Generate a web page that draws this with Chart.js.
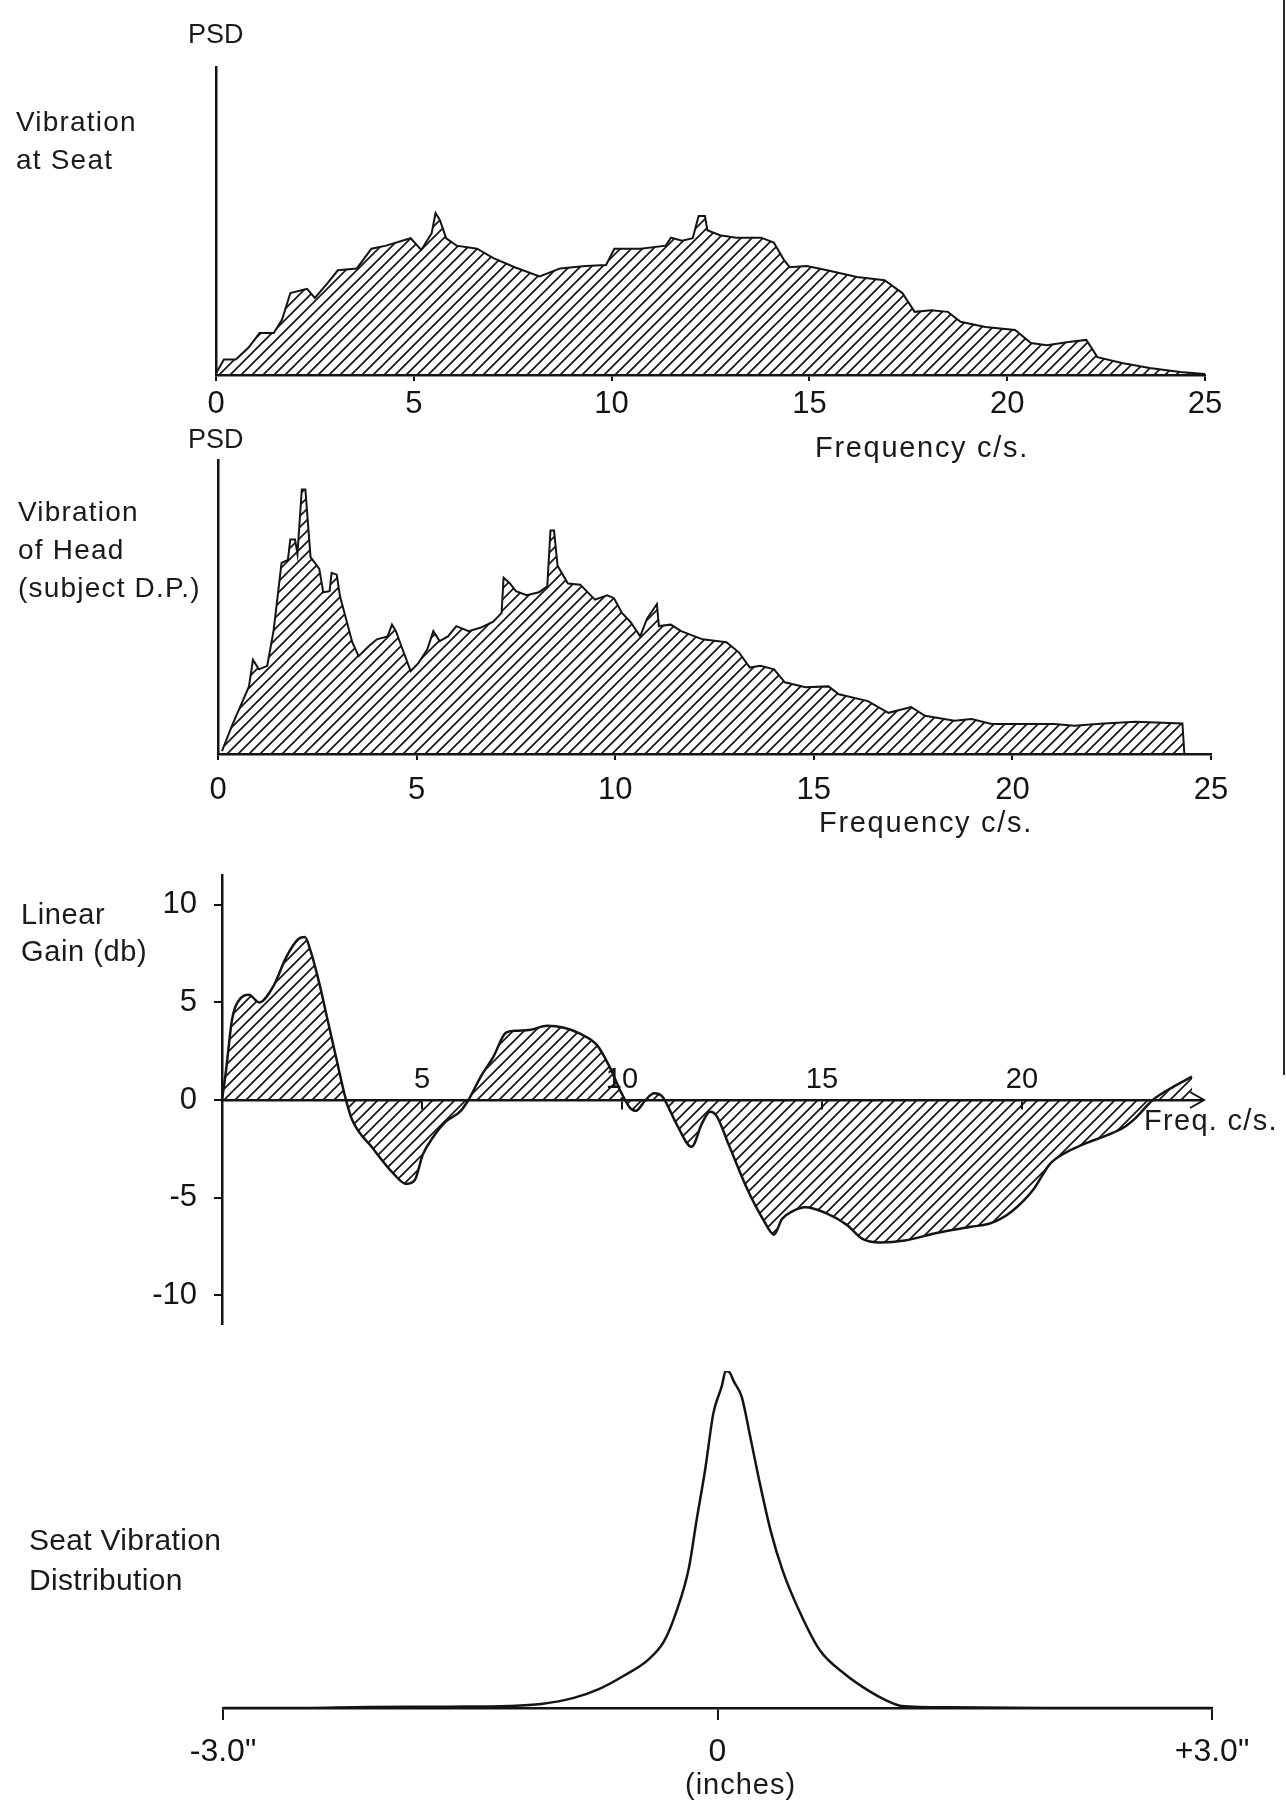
<!DOCTYPE html>
<html>
<head>
<meta charset="utf-8">
<title>Seat and head vibration</title>
<script src="https://cdn.jsdelivr.net/npm/chart.js@4.4.1/dist/chart.umd.min.js"></script>
<style>
  body { margin: 0; background: #fff; }
  #page { position: relative; width: 1286px; height: 1808px; overflow: hidden; background: #fff; }
  .panel { position: absolute; left: 0; width: 1286px; }
  .lbl { position: absolute; font-family: 'Liberation Sans', Arial, sans-serif; color: #1a1a1a; white-space: nowrap; line-height: 1; }
  .side { font-size: 28px; letter-spacing: 1.2px; line-height: 38px; }
  .edge { position: absolute; left: 1283px; top: 0; width: 2px; height: 1075px; background: #2a2a2a; }
</style>
</head>
<body>
<div id="page">
  <div class="panel" style="top:0;height:470px"><canvas id="seatChart"></canvas></div>
  <div class="panel" style="top:420px;height:440px"><canvas id="headChart"></canvas></div>
  <div class="panel" style="top:840px;height:520px"><canvas id="gainChart"></canvas></div>
  <div class="panel" style="top:1340px;height:468px"><canvas id="distChart"></canvas></div>

  <div class="lbl" style="left:188px;top:21px;font-size:27px">PSD</div>
  <div class="lbl side" style="left:16px;top:103px">Vibration<br>at Seat</div>
  <div class="lbl" style="left:815px;top:433px;font-size:29px;letter-spacing:1.7px">Frequency c/s.</div>

  <div class="lbl" style="left:188px;top:426px;font-size:27px">PSD</div>
  <div class="lbl side" style="left:18px;top:493px">Vibration<br>of Head<br>(subject D.P.)</div>
  <div class="lbl" style="left:819px;top:808px;font-size:29px;letter-spacing:1.7px">Frequency c/s.</div>

  <div class="lbl side" style="left:21px;top:896px;font-size:29px;line-height:37px;letter-spacing:0.6px">Linear<br>Gain (db)</div>
  <div class="lbl" style="left:1144px;top:1106px;font-size:29px;letter-spacing:1.3px">Freq. c/s.</div>

  <div class="lbl side" style="left:29px;top:1520px;font-size:30px;line-height:40px;letter-spacing:0.3px">Seat Vibration<br>Distribution</div>
  <div class="lbl" style="left:685px;top:1770px;font-size:29px;letter-spacing:1px">(inches)</div>

  <div class="edge"></div>
</div>

<script>
// ----------------------------------------------------
// DATA
// ----------------------------------------------------

// Vibration at seat - PSD (relative units, axis top = 100) vs frequency c/s
const seatFreq = [0, 0.2, 0.5, 0.83, 1.1, 1.46, 1.67, 1.88, 2.3, 2.5, 2.83, 3.08, 3.56, 3.93, 4.3, 4.92,
    5.19, 5.45, 5.55, 5.66, 5.82, 6.08, 6.6, 7.0, 7.55, 8.18, 8.7, 9.34, 9.86, 10.07, 10.74, 11.37,
    11.5, 11.78, 12.05, 12.2, 12.36, 12.42, 12.74, 13.15, 13.78, 14.1, 14.36, 14.5, 14.93, 15.45, 16.2,
    16.9, 17.35, 17.66, 18.08, 18.5, 18.82, 19.45, 20.2, 20.6, 21.0, 21.55, 22.0, 22.28, 22.9, 23.6, 24.37, 25];
const seatPsd = [0.6, 5, 5, 9, 13.6, 13.6, 18, 26.6, 28, 25, 30, 34, 34.6, 41, 42, 44.4,
    40.6, 46, 52.6, 50.3, 44.4, 42, 41, 38, 35, 32, 34.6, 35.4, 35.7, 41, 41, 42,
    44.6, 43.6, 44.4, 51.6, 51.6, 47, 45.4, 44.6, 44.6, 43, 37.3, 35, 35.4, 34, 31.8,
    30.8, 26.6, 20.5, 21, 20.5, 17.3, 15.6, 14.6, 10.4, 9.7, 10.7, 11.4, 5.8, 3.9, 2.3, 1, 0.3];

// Vibration of head (subject D.P.) - PSD vs frequency c/s
const headFreq = [0.1, 0.35, 0.78, 0.88, 1.03, 1.24, 1.4, 1.6, 1.76, 1.82, 1.94, 2.0, 2.11, 2.2, 2.33, 2.55,
    2.65, 2.81, 2.86, 2.99, 3.07, 3.38, 3.54, 3.8, 4.0, 4.27, 4.38, 4.48, 4.58, 4.85, 5.05, 5.27,
    5.42, 5.58, 5.79, 6.0, 6.31, 6.62, 6.93, 7.14, 7.19, 7.35, 7.5, 7.77, 8.08, 8.29, 8.37, 8.46,
    8.55, 8.81, 9.12, 9.49, 9.8, 9.97, 10.17, 10.38, 10.63, 10.8, 11.05, 11.1, 11.4, 11.66, 12.2,
    12.8, 13.12, 13.39, 13.65, 14.0, 14.27, 14.79, 15.37, 15.63, 16.36, 16.88, 17.45, 17.8, 18.54,
    18.97, 19.48, 20.2, 21.05, 21.56, 22.3, 23.1, 24.28, 24.33];
const headPsd = [1, 9.6, 23, 32, 28.8, 30, 42, 65, 66, 73, 73, 68, 90, 90, 67, 63,
    55, 55.4, 61.6, 61, 53.7, 38, 33.3, 36.7, 39, 40, 44, 41.8, 38, 28.2, 31, 35.6,
    41.8, 38.4, 40, 43.5, 41.8, 43, 45, 48, 60, 58, 55.4, 54, 55, 57, 76, 76,
    64, 58, 57.6, 52.5, 54, 53, 48, 45, 40, 46, 51, 43.5, 44, 41.8, 39,
    38, 34.5, 29.4, 30, 28.8, 24.4, 22.7, 23, 20.3, 18, 14, 16, 13, 11.3,
    11.9, 10.2, 10.2, 10.2, 9.6, 10.4, 11, 10.4, 0];

// Linear gain (db) vs frequency c/s
const gainFreq = [0, 0.1, 0.25, 0.46, 0.67, 0.93, 1.29, 1.6, 1.91, 2.07, 2.22, 2.43, 2.64, 2.85, 3.1, 3.25,
    3.78, 4.3, 4.6, 4.82, 5.02, 5.28, 5.6, 5.95, 6.16, 6.47, 6.78, 7.1, 7.35, 7.72, 8.13, 8.55,
    8.95, 9.38, 9.69, 10.0, 10.2, 10.35, 10.57, 10.8, 11.0, 11.38, 11.74, 12.0, 12.2, 12.36, 12.67,
    13.14, 13.55, 13.8, 14.0, 14.27, 14.58, 15.1, 15.62, 16.0, 16.45, 17.07, 17.9, 18.72, 19.24,
    19.75, 20.28, 20.69, 21.0, 21.5, 22.13, 22.55, 22.85, 23.27, 23.8, 24.25];
const gainDb = [0, 1.5, 4.1, 5.2, 5.4, 5.0, 5.85, 7.3, 8.25, 8.35, 7.6, 6.0, 4.1, 2.2, 0, -1.0,
    -2.5, -3.8, -4.3, -4.1, -2.8, -1.9, -1.1, -0.6, 0, 1.2, 2.2, 3.45, 3.55, 3.6, 3.8, 3.7,
    3.4, 2.8, 1.7, 0.3, -0.4, -0.55, -0.05, 0.35, 0.2, -1.3, -2.4, -1.2, -0.6, -0.8, -2.3,
    -4.6, -6.2, -6.9, -6.1, -5.7, -5.5, -5.8, -6.4, -7.1, -7.3, -7.2, -6.8, -6.5, -6.3,
    -5.7, -4.6, -3.3, -2.8, -2.3, -1.8, -1.4, -0.9, 0, 0.7, 1.2];

// Seat vibration distribution (relative, peak = 100) vs displacement in inches
const distInch = [-3.0, -2.6, -2.115, -1.617, -1.268, -1.069, -0.872, -0.72, -0.571, -0.423, -0.323, -0.248,
    -0.174, -0.126, -0.074, -0.025, 0.026, 0.05, 0.075, 0.098, 0.147, 0.199, 0.249, 0.323, 0.398, 0.499,
    0.62, 0.772, 0.921, 1.014, 1.117, 1.408, 2.0, 3.0];
const distLevel = [0, 0, 0.3, 0.4, 0.6, 1.2, 3.0, 5.6, 9.5, 14.2, 19.9, 28.8,
    41.5, 56, 71, 87.5, 95.5, 100, 99.5, 97, 92.3, 80.4, 68.5, 52.5, 40.4, 28.5,
    17.2, 10.1, 5.0, 2.5, 0.6, 0.2, 0, 0];
const distTicks = [-3, 0, 3];
const distTickLabels = ['-3.0"', '0', '+3.0"'];

// ----------------------------------------------------
// SHARED STYLE
// ----------------------------------------------------
const ink = '#141414';
const font = "'Liberation Sans', Arial, sans-serif";
Chart.defaults.font.family = font;
Chart.defaults.color = ink;

const points = (xs, ys) => xs.map((x, i) => ({ x: x, y: ys[i] }));

// diagonal hatching like the hand shading
function hatch() {
    const c = document.createElement('canvas');
    c.width = 11; c.height = 11;
    const g = c.getContext('2d');
    g.strokeStyle = '#161616';
    g.lineWidth = 1.7;
    g.beginPath();
    g.moveTo(-2, 13); g.lineTo(13, -2);
    g.moveTo(-2, 2); g.lineTo(2, -2);
    g.moveTo(9, 13); g.lineTo(13, 9);
    g.stroke();
    return g.createPattern(c, 'repeat');
}

const baseOptions = (padding) => ({
    animation: false,
    responsive: true,
    maintainAspectRatio: false,
    layout: { padding: padding },
    plugins: { legend: { display: false }, tooltip: { enabled: false } }
});

// 1. Vibration at seat
new Chart(document.getElementById('seatChart'), {
    type: 'line',
    data: { datasets: [{
        data: points(seatFreq, seatPsd),
        borderColor: ink, borderWidth: 2, pointRadius: 0, tension: 0,
        fill: 'origin', backgroundColor: hatch()
    }] },
    options: Object.assign(baseOptions({ left: 216, right: 81, top: 67, bottom: 35 }), {
        scales: {
            x: {
                type: 'linear', min: 0, max: 25,
                ticks: { stepSize: 5, padding: 5, maxRotation: 0, font: { size: 31 } },
                grid: { drawOnChartArea: false, tickLength: 6, color: ink, lineWidth: 2 },
                border: { color: ink, width: 2.5 },
                afterFit: s => { s.height = 60; }
            },
            y: {
                min: 0, max: 100,
                ticks: { display: false }, grid: { display: false },
                border: { color: ink, width: 2.5 },
                afterFit: s => { s.width = 0; }
            }
        }
    })
});

// 2. Vibration of head
new Chart(document.getElementById('headChart'), {
    type: 'line',
    data: { datasets: [{
        data: points(headFreq, headPsd),
        borderColor: ink, borderWidth: 2, pointRadius: 0, tension: 0,
        fill: 'origin', backgroundColor: hatch()
    }] },
    options: Object.assign(baseOptions({ left: 218, right: 75, top: 40, bottom: 46 }), {
        scales: {
            x: {
                type: 'linear', min: 0, max: 25,
                ticks: { stepSize: 5, padding: 12, maxRotation: 0, font: { size: 31 } },
                grid: { drawOnChartArea: false, tickLength: 6, color: ink, lineWidth: 2 },
                border: { color: ink, width: 2.5 },
                afterFit: s => { s.height = 60; }
            },
            y: {
                min: 0, max: 100,
                ticks: { display: false }, grid: { display: false },
                border: { color: ink, width: 2.5 },
                afterFit: s => { s.width = 0; }
            }
        }
    })
});

// 3. Linear gain - frequency axis runs along the zero line, with an arrow
const arrowHead = {
    id: 'arrowHead',
    afterDraw(chart) {
        const { ctx, chartArea } = chart;
        const y0 = chart.scales.y.getPixelForValue(0);
        const x0 = chartArea.right + 2;
        ctx.save();
        ctx.strokeStyle = ink;
        ctx.lineWidth = 2;
        ctx.beginPath();
        ctx.moveTo(x0 - 14, y0 - 8);
        ctx.lineTo(x0, y0);
        ctx.lineTo(x0 - 14, y0 + 8);
        ctx.stroke();
        ctx.restore();
    }
};

new Chart(document.getElementById('gainChart'), {
    type: 'line',
    data: { datasets: [{
        data: points(gainFreq, gainDb),
        borderColor: ink, borderWidth: 2.5, pointRadius: 0, cubicInterpolationMode: 'monotone',
        fill: 'origin', backgroundColor: hatch()
    }] },
    options: Object.assign(baseOptions({ left: 122, right: 84, top: 13, bottom: 30 }), {
        scales: {
            x: {
                type: 'linear', position: { y: 0 }, min: 0, max: 24.5,
                ticks: {
                    stepSize: 5, includeBounds: false, padding: -45, maxRotation: 0,
                    font: { size: 29 },
                    callback: v => (v === 0 ? '' : v)
                },
                grid: { drawOnChartArea: false, tickLength: 8, color: ink, lineWidth: 2 },
                border: { color: ink, width: 2.5 },
                afterFit: s => { s.height = 0; }
            },
            y: {
                min: -11.5, max: 11.5,
                ticks: { stepSize: 5, includeBounds: false, padding: 17, font: { size: 31 } },
                grid: { drawOnChartArea: false, tickLength: 8, color: ink, lineWidth: 2 },
                border: { color: ink, width: 2.5 },
                afterFit: s => { s.width = 100; }
            }
        }
    }),
    plugins: [arrowHead]
});

// 4. Seat vibration distribution
new Chart(document.getElementById('distChart'), {
    type: 'line',
    data: { datasets: [{
        data: points(distInch, distLevel),
        borderColor: ink, borderWidth: 2.5, pointRadius: 0, cubicInterpolationMode: 'monotone',
        fill: false
    }] },
    options: Object.assign(baseOptions({ left: 223, right: 74, top: 31, bottom: 30 }), {
        scales: {
            x: {
                type: 'linear', min: -3, max: 3,
                afterBuildTicks: s => { s.ticks = distTicks.map(v => ({ value: v })); },
                ticks: {
                    padding: 13, maxRotation: 0, font: { size: 32 },
                    callback: (v, i) => distTickLabels[i]
                },
                grid: { drawOnChartArea: false, tickLength: 12, color: ink, lineWidth: 2 },
                border: { color: ink, width: 2.5 },
                afterFit: s => { s.height = 70; }
            },
            y: { display: false, min: 0, max: 100 }
        }
    })
});
</script>
</body>
</html>
